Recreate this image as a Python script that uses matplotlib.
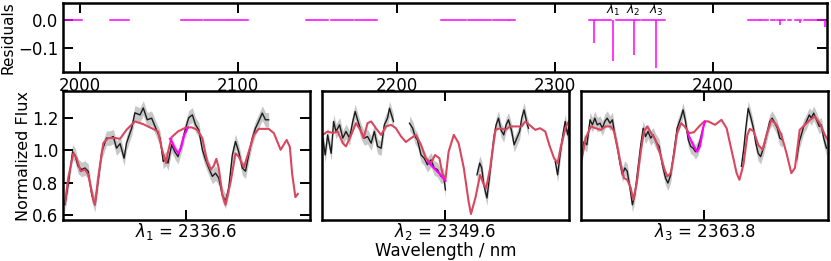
import matplotlib
matplotlib.use('Agg')
import matplotlib.pyplot as plt
import numpy as np

# ---- data ----
# residual panel: fitted regions (residual = 0) and line residuals
res_regions = [(1990.5, 2001.1), (2018.9, 2031.1), (2063.8, 2077.2), (2078.5, 2093.2),
               (2093.9, 2106.3), (2142.7, 2156.8), (2158.3, 2172.5), (2173.6, 2187.3),
               (2228.3, 2244.1), (2245.1, 2259.9), (2260.9, 2274.6), (2321.3, 2335.7),
               (2338.4, 2353.5), (2355.0, 2369.3), (2421.9, 2434.5), (2436.6, 2438.8),
               (2440.2, 2445.0), (2447.2, 2449.3), (2451.4, 2455.6), (2457.1, 2470.3)]
spike_wave = [2270.8, 2324.5, 2336.6, 2349.6, 2363.8, 2429.7, 2441.9, 2454.5, 2470.3]
spike_depth = [-0.004, -0.081, -0.145, -0.126, -0.170, -0.005, -0.018, -0.010, -0.026]

line_centres = [2336.6, 2349.6, 2363.8]
line_names = [r'$\lambda_1$', r'$\lambda_2$', r'$\lambda_3$']

# zoom panels: offsets from line centre (nm) and normalized flux
# panel 1
obs1_x = [[-3.04, -2.96, -2.85, -2.79, -2.71, -2.62, -2.54, -2.46, -2.37, -2.29, -2.21, -2.12,
           -2.00, -1.91, -1.83, -1.75, -1.66, -1.56, -1.50, -1.37, -1.29, -1.16, -1.08, -0.98,
           -0.87, -0.75, -0.66, -0.58, -0.51, -0.46, -0.37, -0.29, -0.21, -0.12, -0.04, 0.03,
           0.06, 0.15, 0.23, 0.31, 0.40, 0.48, 0.56, 0.65, 0.73, 0.81, 0.90, 0.98, 1.06, 1.15,
           1.23, 1.31, 1.40, 1.48, 1.56, 1.65, 1.73, 1.81, 1.90, 1.98, 2.06]]
obs1_y = [[0.664, 0.79, 0.99, 0.97, 0.90, 0.88, 0.89, 0.87, 0.725, 0.663, 0.81, 0.99,
           1.074, 1.074, 1.084, 1.012, 1.04, 0.95, 1.043, 1.135, 1.23, 1.217, 1.26, 1.187,
           1.197, 1.125, 1.074, 0.93, 0.95, 0.92, 1.033, 0.99, 0.96, 1.033, 1.115, 1.177,
           1.20, 1.217, 1.156, 1.125, 1.002, 0.94, 0.89, 0.838, 0.858, 0.828, 0.725, 0.684,
           0.766, 0.97, 1.053, 0.99, 0.89, 0.87, 0.97, 1.074, 1.135, 1.177, 1.228, 1.187, 1.187]]
mod1_x = [-3.04, -2.96, -2.83, -2.75, -2.65, -2.54, -2.46, -2.33, -2.29, -2.21, -2.08, -1.96,
          -1.79, -1.66, -1.50, -1.29, -1.08, -0.87, -0.71, -0.62, -0.51, -0.45, -0.37, -0.21,
          -0.01, 0.14, 0.27, 0.40, 0.52, 0.61, 0.68, 0.75, 0.81, 0.90, 0.98, 1.11, 1.23, 1.31,
          1.44, 1.56, 1.69, 1.81, 2.06, 2.19, 2.36, 2.51, 2.59, 2.65, 2.73, 2.79]
mod1_y = [0.674, 0.828, 0.98, 0.95, 0.87, 0.88, 0.85, 0.694, 0.663, 0.83, 1.043, 1.074,
          1.075, 1.07, 1.125, 1.177, 1.16, 1.135, 1.115, 1.012, 0.92, 1.0, 1.08, 1.115,
          1.14, 1.14, 1.125, 1.074, 0.93, 0.88, 0.90, 0.946, 0.89, 0.725, 0.663, 0.807, 0.98,
          0.96, 0.894, 0.99, 1.094, 1.131, 1.131, 1.105, 1.002, 1.063, 1.02, 0.85, 0.71, 0.73]
line1_x = [-0.41, -0.36, -0.29, -0.20, -0.14, -0.06, 0.04]
line1_y = [1.07, 1.05, 1.01, 0.98, 1.01, 1.09, 1.14]

# panel 2
obs2_x = [[-3.07, -3.01, -2.95, -2.86, -2.80, -2.74, -2.65, -2.57, -2.49, -2.40, -2.32, -2.26,
           -2.20, -2.11, -2.03, -1.95, -1.86, -1.78, -1.70, -1.61, -1.53, -1.45, -1.40, -1.35,
           -1.30],
          [-0.90, -0.82, -0.76, -0.70, -0.61, -0.53, -0.45, -0.36, -0.28, -0.20, -0.11, -0.05,
           0.0],
          [0.79, 0.86, 0.91, 0.96, 1.00, 1.04, 1.12, 1.21, 1.27, 1.33, 1.39, 1.46, 1.52, 1.58,
           1.66, 1.72, 1.79, 1.86, 1.91, 1.97, 2.04, 2.08],
          [2.75, 2.81, 2.87, 2.94, 3.00, 3.06, 3.10]]
obs2_y = [[1.074, 0.97, 1.094, 0.98, 1.177, 1.115, 1.156, 1.074, 1.115, 1.074, 1.177, 1.238,
           1.187, 1.115, 1.074, 1.084, 1.043, 1.115, 1.023, 1.012, 1.156, 1.197, 1.258, 1.217,
           1.177],
          [1.166, 1.135, 1.084, 1.063, 0.97, 0.95, 0.91, 0.94, 0.89, 0.88, 0.838, 0.848, 0.755],
          [0.848, 0.92, 0.89, 0.787, 0.746, 0.705, 0.87, 1.074, 1.156, 1.197, 1.125, 1.094,
           1.156, 1.187, 1.115, 1.033, 1.074, 1.115, 1.197, 1.248, 1.166, 1.135],
          [0.93, 0.848, 0.97, 1.094, 1.177, 1.094, 1.15]]
mod2_x = [-3.07, -2.95, -2.82, -2.70, -2.57, -2.49, -2.36, -2.24, -2.13, -2.05, -1.95, -1.86,
          -1.74, -1.61, -1.49, -1.36, -1.24, -1.11, -0.99, -0.86, -0.74, -0.61, -0.49, -0.36,
          -0.26, -0.15, -0.07, 0.0, 0.08, 0.21, 0.33, 0.46, 0.58, 0.64, 0.75, 0.87, 0.96, 1.02,
          1.12, 1.25, 1.37, 1.50, 1.62, 1.75, 1.91, 2.00, 2.12, 2.25, 2.37, 2.50, 2.60, 2.72,
          2.81, 2.89, 3.02, 3.09]
mod2_y = [1.094, 1.115, 1.105, 1.115, 1.043, 1.023, 1.094, 1.166, 1.125, 1.074, 1.166, 1.177,
          1.135, 1.094, 1.146, 1.156, 1.135, 1.084, 1.05, 1.074, 1.094, 1.033, 0.95, 0.92,
          0.97, 0.95, 0.85, 0.815, 0.99, 1.094, 1.043, 0.89, 0.684, 0.606, 0.705, 0.848, 0.787,
          0.766, 0.89, 1.125, 1.135, 1.125, 1.146, 1.146, 1.146, 1.177, 1.152, 1.125, 1.135,
          1.115, 1.033, 0.95, 0.92, 1.023, 1.146, 1.177]
line2_x = [-0.45, -0.35, -0.25, -0.15, -0.07, 0.0]
line2_y = [0.93, 0.905, 0.88, 0.855, 0.83, 0.81]

# panel 3
obs3_x = [[-3.08, -3.01, -2.94, -2.86, -2.80, -2.74, -2.68, -2.61, -2.55, -2.49, -2.43, -2.36,
           -2.30, -2.24, -2.18, -2.11, -2.05, -1.99, -1.93, -1.86, -1.80, -1.74, -1.68, -1.59,
           -1.53, -1.47, -1.41, -1.34, -1.28, -1.21, -1.13, -1.05, -0.97, -0.91, -0.84, -0.76,
           -0.68, -0.59, -0.53, -0.47, -0.40, -0.34, -0.28, -0.22, -0.16, -0.09, -0.03],
          [0.93, 0.99, 1.04, 1.10, 1.16, 1.23, 1.29, 1.35, 1.41, 1.48, 1.56, 1.64, 1.70, 1.77,
           1.83, 1.89, 1.96],
          [2.31, 2.38, 2.43, 2.49, 2.56, 2.63, 2.68, 2.74, 2.81, 2.88, 2.93, 2.99, 3.06]]
obs3_y = [[0.93, 1.053, 1.033, 1.187, 1.156, 1.197, 1.156, 1.166, 1.135, 1.177, 1.197, 1.166,
           1.187, 1.094, 1.023, 0.92, 0.848, 0.89, 0.87, 0.766, 0.663, 0.725, 0.848, 1.033,
           1.135, 1.084, 1.115, 1.074, 1.094, 1.053, 1.023, 0.91, 0.828, 0.797, 0.848, 0.99,
           1.135, 1.197, 1.248, 1.177, 1.063, 1.023, 1.012, 0.99, 1.012, 1.074, 1.135],
          [0.90, 1.012, 1.135, 1.258, 1.207, 1.135, 1.043, 0.98, 0.96, 1.012, 1.094, 1.177,
           1.197, 1.166, 1.135, 1.074, 1.063],
          [0.94, 1.053, 1.094, 1.146, 1.177, 1.217, 1.197, 1.228, 1.187, 1.146, 1.156, 1.074,
           1.012]]
mod3_x = [-3.05, -2.97, -2.84, -2.72, -2.59, -2.47, -2.34, -2.26, -2.18, -2.09, -2.01, -1.93,
          -1.84, -1.78, -1.69, -1.59, -1.51, -1.43, -1.33, -1.22, -1.11, -1.01, -0.93, -0.84,
          -0.76, -0.68, -0.58, -0.49, -0.38, -0.26, -0.13, 0.0, 0.10, 0.27, 0.43, 0.56, 0.68,
          0.81, 0.88, 0.98, 1.08, 1.14, 1.24, 1.35, 1.46, 1.56, 1.68, 1.81, 1.93, 2.06, 2.18,
          2.27, 2.39, 2.52, 2.65, 2.77, 2.89, 3.02, 3.12]
mod3_y = [0.97, 1.074, 1.146, 1.135, 1.125, 1.146, 1.146, 1.115, 1.023, 0.91, 0.828, 0.817,
          0.766, 0.694, 0.797, 0.99, 1.115, 1.146, 1.105, 1.063, 0.98, 0.89, 0.838, 0.858,
          0.97, 1.105, 1.166, 1.146, 1.105, 1.11, 1.146, 1.177, 1.177, 1.156, 1.187, 1.135,
          1.002, 0.858, 0.817, 0.91, 1.094, 1.131, 1.115, 1.033, 1.002, 1.094, 1.187, 1.156,
          1.094, 0.98, 0.858, 0.89, 1.125, 1.156, 1.187, 1.207, 1.166, 1.094, 1.053]
line3_x = [-0.41, -0.36, -0.26, -0.18, -0.11, -0.03, 0.02]
line3_y = [1.10, 1.074, 1.023, 0.99, 1.023, 1.135, 1.177]

obs_err = 0.045
half_window = 3.09

MODEL_COLOR = '#d9475f'
LINE_COLOR = '#ff00ff'


def style_ticks(ax):
    ax.tick_params(direction='in', length=7, width=1.4, top=True, right=True, labelsize=12)
    for sp in ax.spines.values():
        sp.set_linewidth(1.8)


def plot_residuals(fig):
    ax = fig.add_axes([0.0758, 0.724, 0.919, 0.264])
    for lo, hi in res_regions:
        ax.plot([lo, hi], [0, 0], color=LINE_COLOR, lw=1.1)
    ax.vlines(spike_wave, spike_depth, 0, color=LINE_COLOR, lw=1.1)
    for lam, name in zip(line_centres, line_names):
        ax.text(lam, 0.006, name, ha='center', va='bottom', fontsize=9)
    ax.set_xlim(1989.3, 2471.6)
    ax.set_ylim(-0.186, 0.06)
    ax.set_xticks([2000, 2100, 2200, 2300, 2400])
    ax.set_yticks([0.0, -0.1])
    ax.set_ylabel('Residuals', fontsize=11)
    ax.yaxis.set_label_coords(-0.062, 0.5)
    style_ticks(ax)


def plot_zoom(fig, left, lam, name, obs_x, obs_y, mod_x, mod_y, ln_x, ln_y, first):
    ax = fig.add_axes([left, 0.157, 0.297, 0.494])
    for xs, ys in zip(obs_x, obs_y):
        w = lam + np.array(xs)
        f = np.array(ys)
        ax.fill_between(w, f - obs_err, f + obs_err, color='0.6', alpha=0.55, lw=0)
        ax.plot(w, f, color='0.1', lw=1.0)
    ax.plot(lam + np.array(mod_x), mod_y, color=MODEL_COLOR, lw=1.5)
    ax.plot(lam + np.array(ln_x), ln_y, color=LINE_COLOR, lw=1.5)
    ax.set_xlim(lam - half_window, lam + half_window)
    ax.set_ylim(0.569, 1.364)
    ax.set_xticks([lam])
    style_ticks(ax)
    ax.tick_params(axis='x', labelbottom=False)
    ax.set_xlabel(name + ' = %.1f' % lam, fontsize=12, labelpad=1)
    if first:
        ax.set_yticks([0.6, 0.8, 1.0, 1.2])
        ax.set_ylabel('Normalized Flux', fontsize=11.5)
        ax.yaxis.set_label_coords(-0.13, 0.5)
    else:
        ax.set_yticks([])
    return ax


def main():
    fig = plt.figure(figsize=(8.31, 2.61), dpi=100)
    plot_residuals(fig)
    plot_zoom(fig, 0.0758, line_centres[0], line_names[0], obs1_x, obs1_y,
              mod1_x, mod1_y, line1_x, line1_y, True)
    plot_zoom(fig, 0.3875, line_centres[1], line_names[1], obs2_x, obs2_y,
              mod2_x, mod2_y, line2_x, line2_y, False)
    plot_zoom(fig, 0.699, line_centres[2], line_names[2], obs3_x, obs3_y,
              mod3_x, mod3_y, line3_x, line3_y, False)
    fig.text(0.536, 0.040, 'Wavelength / nm', ha='center', va='center', fontsize=12)
    fig.savefig('out.png', dpi=100)


if __name__ == "__main__":
    main()
